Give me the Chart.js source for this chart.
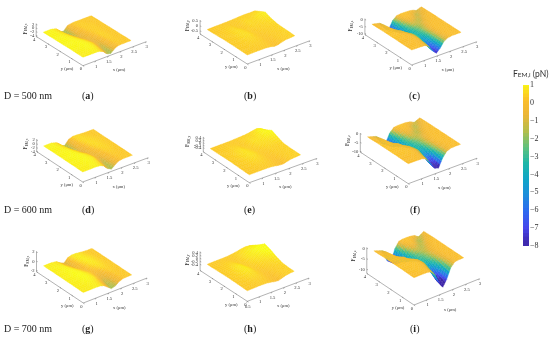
<!DOCTYPE html>
<html>
<head>
<meta charset="utf-8">
<script src="https://cdn.jsdelivr.net/npm/chart.js@4"></script>
<style>
  html, body { margin: 0; background: #fff; width: 550px; height: 338px; overflow: hidden; }
  canvas { position: absolute; }
  .cap { position: absolute; font: 10px "Liberation Serif", serif; color: #222; white-space: nowrap; line-height: 10px; }
  #cbTitle { position: absolute; left: 513px; top: 69px; font: 8.5px Lato, sans-serif; color: #333; white-space: nowrap; }
  #cbTitle small { font-size: 6.5px; }
</style>
</head>
<body>
<canvas id="pa" width="170" height="114" style="left:0;top:0"></canvas>
<canvas id="pb" width="170" height="114" style="left:170px;top:0"></canvas>
<canvas id="pc" width="170" height="114" style="left:340px;top:0"></canvas>
<canvas id="pd" width="170" height="114" style="left:0;top:112px"></canvas>
<canvas id="pe" width="170" height="114" style="left:170px;top:112px"></canvas>
<canvas id="pf" width="170" height="114" style="left:340px;top:112px"></canvas>
<canvas id="pg" width="170" height="114" style="left:0;top:224px"></canvas>
<canvas id="ph" width="170" height="114" style="left:170px;top:224px"></canvas>
<canvas id="pi" width="170" height="114" style="left:340px;top:224px"></canvas>
<canvas id="cbar" width="60" height="200" style="left:490px;top:60px"></canvas>
<div id="cbTitle">F<small>EM,i</small> (pN)</div>
<div class="cap" style="left:4px;top:91px">D = 500 nm</div>
<div class="cap" style="left:4px;top:205px">D = 600 nm</div>
<div class="cap" style="left:4px;top:324px">D = 700 nm</div>
<div class="cap" style="left:82px;top:91px">(<b>a</b>)</div>
<div class="cap" style="left:244px;top:91px">(<b>b</b>)</div>
<div class="cap" style="left:409px;top:91px">(<b>c</b>)</div>
<div class="cap" style="left:82px;top:205px">(<b>d</b>)</div>
<div class="cap" style="left:244px;top:205px">(<b>e</b>)</div>
<div class="cap" style="left:410px;top:205px">(<b>f</b>)</div>
<div class="cap" style="left:82px;top:324px">(<b>g</b>)</div>
<div class="cap" style="left:244px;top:324px">(<b>h</b>)</div>
<div class="cap" style="left:410px;top:324px">(<b>i</b>)</div>

<script>
// grid of the surfaces, in um
const xGrid = [0.5, 0.8, 1.0, 1.15, 1.3, 1.45, 1.6, 1.75, 1.9, 2.05, 2.2, 2.4];
const yGrid = [0, 0.5, 1, 1.5, 2, 2.5, 3, 3.4];

const xTicks = [1, 1.5, 2, 2.5, 3];
const xTicksH = [0.5, 1, 1.5, 2, 2.5, 3];
const yTicks = [0, 1, 2, 3, 4];
const zTicksWide = ["2", "0", "-2", "-4"];
const zTicksShort = ["2", "0", "-2"];
const zTicksSmall = ["0.5", "0", "-0.5"];
const zTicksTiny = ["0.4", "0.2", "0", "-0.2", "-0.4"];
const zTicksDeep = ["0", "-5", "-10"];

// force values, one row per y
const zA = [
  [.8, .8, .8, .7, 0, -1.6, -2, -.6, .1, .2, .2, .2],
  [.8, .85, .9, .85, .4, -1, -1.7, -.5, .2, .25, .2, .2],
  [.9, .9, .95, .9, .6, -.4, -1.1, -.2, .3, .3, .2, .2],
  [.9, .95, .95, .8, .2, -.7, -.6, .1, .4, .3, .2, .2],
  [.9, .95, .85, .4, -.6, -.9, -.2, .2, .3, .3, .2, .2],
  [.9, .9, .7, -.3, -1.5, -.7, 0, .3, .3, .3, .2, .2],
  [.9, .9, .5, -1.1, -1.9, -.4, .1, .3, .3, .2, .2, .2],
  [.9, .9, .4, -1.5, -1.9, -.2, .15, .25, .2, .2, .2, .2],
];
const zB = [
  [.2, .22, .22, .22, .2, .15, .05, .1, .22, .3, .32, .36],
  [.22, .25, .28, .3, .28, .22, .12, .14, .25, .3, .34, .4],
  [.24, .3, .38, .42, .38, .28, .18, .18, .27, .3, .36, .42],
  [.25, .33, .48, .55, .48, .32, .22, .25, .32, .34, .38, .45],
  [.25, .33, .5, .55, .42, .28, .3, .4, .38, .42, .45, .6],
  [.22, .3, .42, .42, .28, .22, .38, .5, .45, .55, .7, .85],
  [.2, .26, .3, .28, .22, .26, .34, .4, .35, .4, .5, .55],
  [.2, .22, .22, .22, .22, .24, .26, .28, .3, .3, .28, .3],
];
const zC = [
  [0, 0, -.2, -1.5, -5.5, -8, -5.5, -1.8, -.4, 0, 0, 0],
  [0, 0, -.1, -1, -4.5, -7.2, -5, -1.6, -.3, 0, 0, 0],
  [0, 0, 0, -.6, -3, -5.2, -4, -1.4, -.2, 0, 0, 0],
  [.1, .1, -.1, -.9, -2.6, -3.8, -3, -1.2, -.2, 0, 0, 0],
  [.1, .1, -.6, -2.4, -4, -3.6, -2.4, -1.6, -.6, -.1, 0, 0],
  [.1, 0, -2.4, -5, -4.6, -2.4, -.8, -1.2, -1.6, -.7, -.1, 0],
  [0, -.6, -5, -6.8, -3.6, -.7, 0, 0, -.8, -1.6, -.8, -.1],
  [0, -1.2, -6.2, -7.2, -2.4, -.2, .1, .1, 0, -.3, -1.4, -.2],
];
const zD = [
  [.8, .8, .85, .75, .2, -1.3, -2, -.8, 0, .2, .2, .2],
  [.8, .85, .9, .85, .5, -.9, -1.7, -.6, .1, .2, .2, .2],
  [.85, .9, .95, .9, .7, -.2, -1, -.2, .2, .3, .2, .2],
  [.85, .95, .95, .85, .4, -.5, -.5, .1, .4, .4, .3, .2],
  [.85, .95, .9, .5, -.5, -.9, -.1, .4, .5, .4, .3, .2],
  [.85, .9, .75, -.2, -1.4, -.6, .2, .5, .5, .4, .3, .2],
  [.85, .9, .5, -1, -1.8, -.3, .4, .5, .4, .3, .2, .2],
  [.85, .85, .3, -1.3, -1.8, -.1, .4, .4, .3, .2, .2, .2],
];
const zE = [
  [.18, .2, .22, .22, .2, .14, .05, .02, .15, .28, .32, .38],
  [.2, .24, .3, .32, .3, .22, .12, .08, .2, .3, .34, .38],
  [.22, .32, .44, .5, .42, .3, .18, .16, .25, .32, .34, .38],
  [.24, .36, .56, .65, .52, .32, .24, .28, .36, .34, .34, .4],
  [.24, .36, .56, .6, .42, .3, .34, .46, .5, .5, .55, .7],
  [.22, .3, .42, .42, .28, .26, .45, .6, .6, .7, .85, 1.05],
  [.2, .26, .3, .28, .22, .3, .4, .45, .5, .7, 1, .6],
  [.2, .22, .22, .22, .24, .28, .3, .34, .4, .5, .6, .3],
];
const zF = [
  [0, 0, -.1, -.9, -4.5, -8, -8.8, -4, -1, -.1, 0, 0],
  [0, 0, 0, -.5, -3, -7, -7.8, -3.4, -.8, -.1, 0, 0],
  [.1, .1, .1, -.2, -1.5, -4.6, -5, -2.4, -.5, 0, 0, 0],
  [.1, .1, 0, -.6, -2.2, -3.6, -3.4, -1.6, -.4, 0, 0, 0],
  [.1, .1, -.5, -2.4, -4.2, -3.8, -2.4, -1.6, -.8, -.2, 0, 0],
  [.1, 0, -2.6, -5.2, -5, -2.6, -.8, -1.2, -1.7, -.8, -.1, 0],
  [0, -.8, -5.4, -7.2, -4, -.8, 0, 0, -.9, -1.8, -.9, -.1],
  [0, -1.5, -6.6, -7.6, -2.6, -.2, .1, .1, 0, -.4, -1.6, -.2],
];
const zG = [
  [.7, .75, .8, .7, .3, -.8, -2, -1.6, -.5, .1, .2, .2],
  [.75, .8, .85, .8, .5, -.3, -1.5, -1.3, -.3, .2, .2, .2],
  [.8, .85, .95, .95, .8, .2, -.7, -.8, 0, .3, .2, .2],
  [.8, .9, 1, 1, .7, .2, -.1, .1, .5, .4, .3, .2],
  [.8, .9, 1, .85, .3, -.2, .2, .6, .7, .5, .3, .2],
  [.8, .9, .9, .4, -.5, -.2, .5, .8, .7, .5, .3, .2],
  [.8, .85, .7, -.2, -1, .1, .7, .8, .6, .4, .2, .2],
  [.8, .8, .5, -.6, -1.2, .3, .7, .7, .5, .3, .2, .2],
];
const zH = [
  [.16, .2, .22, .22, .2, .14, .05, 0, .12, .26, .32, .38],
  [.2, .26, .32, .34, .3, .22, .1, .06, .18, .3, .32, .38],
  [.22, .34, .5, .56, .46, .3, .16, .14, .24, .3, .35, .45],
  [.24, .4, .66, .78, .58, .32, .22, .28, .38, .4, .5, .7],
  [.24, .4, .64, .68, .42, .3, .36, .52, .6, .7, .85, 1.05],
  [.22, .32, .44, .42, .26, .3, .5, .7, .8, .95, 1.1, 1.3],
  [.2, .26, .3, .26, .22, .3, .45, .6, .7, .8, .9, .7],
  [.2, .22, .22, .22, .24, .28, .34, .42, .5, .55, .5, .1],
];
const zI = [
  [0, 0, 0, -.4, -2.6, -7, -10, -7, -2.4, -.3, 0, 0],
  [0, .1, .1, -.2, -1.6, -5.6, -9, -6, -2, -.3, 0, 0],
  [.1, .1, .1, .1, -.6, -3, -5.6, -4, -1.4, -.2, 0, 0],
  [.1, .1, .1, -.1, -1, -2.8, -3.6, -2.4, -.8, -.1, 0, 0],
  [.1, .1, -.2, -1.8, -3.6, -4, -2.8, -1.8, -1, -.3, 0, 0],
  [.1, 0, -2.2, -5.2, -5.8, -3, -.9, -1.3, -1.8, -1, -.1, 0],
  [0, -.6, -5.6, -8, -4.6, -.8, 0, 0, -1, -2, -1, -.1],
  [0, -1.4, -7.2, -8.6, -3, -.2, .1, .1, 0, -.4, -1.8, -.2],
];

// parula style ramp: low = dark blue, high = yellow
const cmapStops = [
  [0, 62, 38, 168], [.1, 71, 71, 235], [.2, 46, 105, 240], [.3, 30, 140, 220], [.4, 16, 165, 200],
  [.5, 30, 183, 168], [.6, 95, 193, 125], [.7, 180, 190, 75], [.8, 235, 182, 55], [.89, 250, 190, 45], [.93, 252, 210, 35], [1, 249, 251, 21],
];
function colorOf(v) {
  const t = Math.max(0, Math.min(1, (v + 8) / 9));
  for (let i = 1; i < cmapStops.length; i++) {
    if (t <= cmapStops[i][0]) {
      const a = cmapStops[i - 1], b = cmapStops[i];
      const f = (t - a[0]) / (b[0] - a[0]);
      return `rgb(${a[1] + f * (b[1] - a[1])},${a[2] + f * (b[2] - a[2])},${a[3] + f * (b[3] - a[3])})`;
    }
  }
  return "rgb(249,251,21)";
}

function makePanel(id, z, v) {
  const project = (x, y, h) => ({
    x: v.corner[0] + (x - 0.5) * v.ex[0] + y * v.ey[0],
    y: v.corner[1] + (x - 0.5) * v.ex[1] + y * v.ey[1] - (h - v.floor) * v.ez,
  });
  const points = [];
  yGrid.forEach((y, r) => xGrid.forEach((x, c) => points.push(project(x, y, z[r][c]))));

  const surface = {
    id: "surface",
    afterDatasetsDraw(chart) {
      const ctx = chart.ctx;
      const sx = chart.scales.x, sy = chart.scales.y;
      const el = chart.getDatasetMeta(0).data;
      const nx = xGrid.length;
      const at = (x, y) => ({ x: sx.getPixelForValue(v.corner[0] + (x - 0.5) * v.ex[0] + y * v.ey[0]),
                              y: sy.getPixelForValue(v.corner[1] + (x - 0.5) * v.ex[1] + y * v.ey[1]) });
      const corner = at(0.5, 0);
      const left = at(0.5, 4);

      // axes
      ctx.save();
      ctx.strokeStyle = "#666";
      ctx.lineWidth = 0.5;
      ctx.fillStyle = "#333";
      ctx.font = '4.6px "Liberation Serif", serif';
      ctx.textAlign = "center";
      ctx.textBaseline = "middle";
      const seg = (a, b) => { ctx.beginPath(); ctx.moveTo(a.x, a.y); ctx.lineTo(b.x, b.y); ctx.stroke(); };
      seg(corner, at(3, 0));
      seg(corner, left);
      seg(left, { x: left.x, y: left.y - v.zLen });
      v.xTicks.forEach(t => {
        const p = at(t, 0);
        seg(p, { x: p.x - 0.8, y: p.y + 1.4 });
        ctx.fillText(String(t), p.x + 0.5, p.y + 5.5);
      });
      yTicks.forEach(t => {
        const p = at(0.5, t);
        seg(p, { x: p.x + 1.2, y: p.y + 0.8 });
        ctx.fillText(String(t), p.x - 2, p.y + 3.3);
      });
      ctx.fillText("x (μm)", corner.x + 36, corner.y + 4.5);
      ctx.fillText("y (μm)", corner.x - 16, corner.y + 3);
      ctx.textAlign = "right";
      v.zTicks.forEach((t, i) => {
        const h = v.zHi + (v.zLo - v.zHi) * i / (v.zTicks.length - 1);
        seg({ x: left.x, y: left.y - h }, { x: left.x + 1.2, y: left.y - h + 0.4 });
        ctx.fillText(t, left.x - 2, left.y - h);
      });
      ctx.translate(left.x + v.fLabel[0], left.y + v.fLabel[1]);
      ctx.rotate(-Math.PI / 2);
      ctx.textAlign = "left";
      ctx.font = '5.5px "Liberation Serif", serif';
      ctx.fillText("F", -3, 0);
      ctx.font = '3.4px "Liberation Serif", serif';
      ctx.fillText(v.sub, 0.4, 1.4);
      ctx.restore();

      // painter's order, back corner first
      ctx.save();
      ctx.lineWidth = 0.35;
      const cuts = 3;
      for (let r = yGrid.length - 2; r >= 0; r--) {
        for (let c = nx - 2; c >= 0; c--) {
          const p00 = el[r * nx + c], p01 = el[r * nx + c + 1], p10 = el[(r + 1) * nx + c], p11 = el[(r + 1) * nx + c + 1];
          const mix = (a, b, cc, d, u, w) => (a * (1 - u) + b * u) * (1 - w) + (cc * (1 - u) + d * u) * w;
          for (let j = cuts - 1; j >= 0; j--) {
            for (let i = cuts - 1; i >= 0; i--) {
              const corners = [[i, j], [i + 1, j], [i + 1, j + 1], [i, j + 1]].map(([a, b]) => ({
                x: mix(p00.x, p01.x, p10.x, p11.x, a / cuts, b / cuts),
                y: mix(p00.y, p01.y, p10.y, p11.y, a / cuts, b / cuts),
              }));
              const col = colorOf(mix(z[r][c], z[r][c + 1], z[r + 1][c], z[r + 1][c + 1], (i + 0.5) / cuts, (j + 0.5) / cuts));
              ctx.fillStyle = col;
              ctx.strokeStyle = col;
              ctx.beginPath();
              corners.forEach((q, n) => (n ? ctx.lineTo(q.x, q.y) : ctx.moveTo(q.x, q.y)));
              ctx.closePath();
              ctx.fill();
              ctx.stroke();
            }
          }
        }
      }
      ctx.restore();
    },
  };

  new Chart(document.getElementById(id), {
    type: "scatter",
    data: { datasets: [{ data: points, pointRadius: 0, showLine: false }] },
    options: {
      responsive: false,
      animation: false,
      layout: { padding: 0 },
      plugins: { legend: { display: false }, tooltip: { enabled: false } },
      scales: {
        x: { type: "linear", display: false, min: 0, max: 170 },
        y: { type: "linear", display: false, min: 0, max: 114, reverse: true },
      },
    },
    plugins: [surface],
  });
}

makePanel("pa", zA, { corner: [83, 65.7], ex: [25.3, -9.6], ey: [-11.7, -7.3], ez: 2.4, floor: -2.7,
  xTicks, zTicks: zTicksWide, zHi: 12, zLo: 1, zLen: 13, fLabel: [-11, -5], sub: "EM,x" });
makePanel("pb", zB, { corner: [77.3, 64], ex: [25, -9.3], ey: [-11.8, -7.5], ez: 10, floor: -.7,
  xTicks, zTicks: zTicksSmall, zHi: 13, zLo: 3, zLen: 14, fLabel: [-13, -5.7], sub: "EM,y" });
makePanel("pc", zC, { corner: [71.7, 65], ex: [26, -9.3], ey: [-11.7, -7.6], ez: 1.5, floor: -10,
  xTicks, zTicks: zTicksDeep, zHi: 15, zLo: 1, zLen: 16, fLabel: [-14, -6], sub: "EM,z" });
makePanel("pd", zD, { corner: [82.7, 70], ex: [26.2, -9.7], ey: [-11.5, -7.6], ez: 2.8, floor: -2.8,
  xTicks, zTicks: zTicksWide, zHi: 11.5, zLo: 0, zLen: 12.5, fLabel: [-11, -5], sub: "EM,x" });
makePanel("pe", zE, { corner: [79.3, 70.7], ex: [27, -9.7], ey: [-11.5, -7.7], ez: 8, floor: -.8,
  xTicks, zTicks: zTicksTiny, zHi: 14, zLo: 4, zLen: 15, fLabel: [-16, -8], sub: "EM,y" });
makePanel("pf", zF, { corner: [68.3, 71.7], ex: [27.5, -10.2], ey: [-12, -7.9], ez: 1.77, floor: -11.3,
  xTicks, zTicks: zTicksDeep, zHi: 18.3, zLo: 0.7, zLen: 19, fLabel: [-13, -9], sub: "EM,z" });
makePanel("pg", zG, { corner: [83.3, 79], ex: [25.5, -10], ey: [-11.7, -7.8], ez: 2.6, floor: -3.3,
  xTicks, zTicks: zTicksShort, zHi: 19.7, zLo: 1.3, zLen: 20.5, fLabel: [-10, -8], sub: "EM,x" });
makePanel("ph", zH, { corner: [77.3, 77.3], ex: [24.7, -9.3], ey: [-11.8, -7.7], ez: 9, floor: -1,
  xTicks: xTicksH, zTicks: zTicksTiny, zHi: 18, zLo: 6, zLen: 19, fLabel: [-13, -8], sub: "EM,y" });
makePanel("pi", zI, { corner: [74, 81], ex: [26.2, -10.5], ey: [-11.8, -7.9], ez: 2.1, floor: -13,
  xTicks, zTicks: zTicksDeep, zHi: 25, zLo: 4, zLen: 26, fLabel: [-13, -15], sub: "EM,z" });

// colour bar
const cbBins = [];
for (let v = -8; v < 1; v += 0.2) cbBins.push(v);
new Chart(document.getElementById("cbar"), {
  type: "bar",
  data: {
    labels: [""],
    datasets: cbBins.map(v => ({
      data: [[v, Math.min(1, v + 0.3)]],
      backgroundColor: colorOf(v + 0.1),
      barPercentage: 1,
      categoryPercentage: 1,
    })),
  },
  options: {
    responsive: false,
    animation: false,
    layout: { padding: { left: 33, top: 25, bottom: 14, right: 0 } },
    plugins: { legend: { display: false }, tooltip: { enabled: false } },
    scales: {
      x: { stacked: true, display: false },
      y: {
        position: "right",
        min: -8,
        max: 1,
        grid: { display: false, drawTicks: false },
        border: { display: false },
        afterFit(scale) { scale.width = 21; },
        ticks: {
          stepSize: 1,
          padding: 1,
          color: "#333",
          font: { family: "Liberation Serif", size: 8 },
          callback: v => String(v).replace("-", "−"),
        },
      },
    },
  },
});
</script>
</body>
</html>
